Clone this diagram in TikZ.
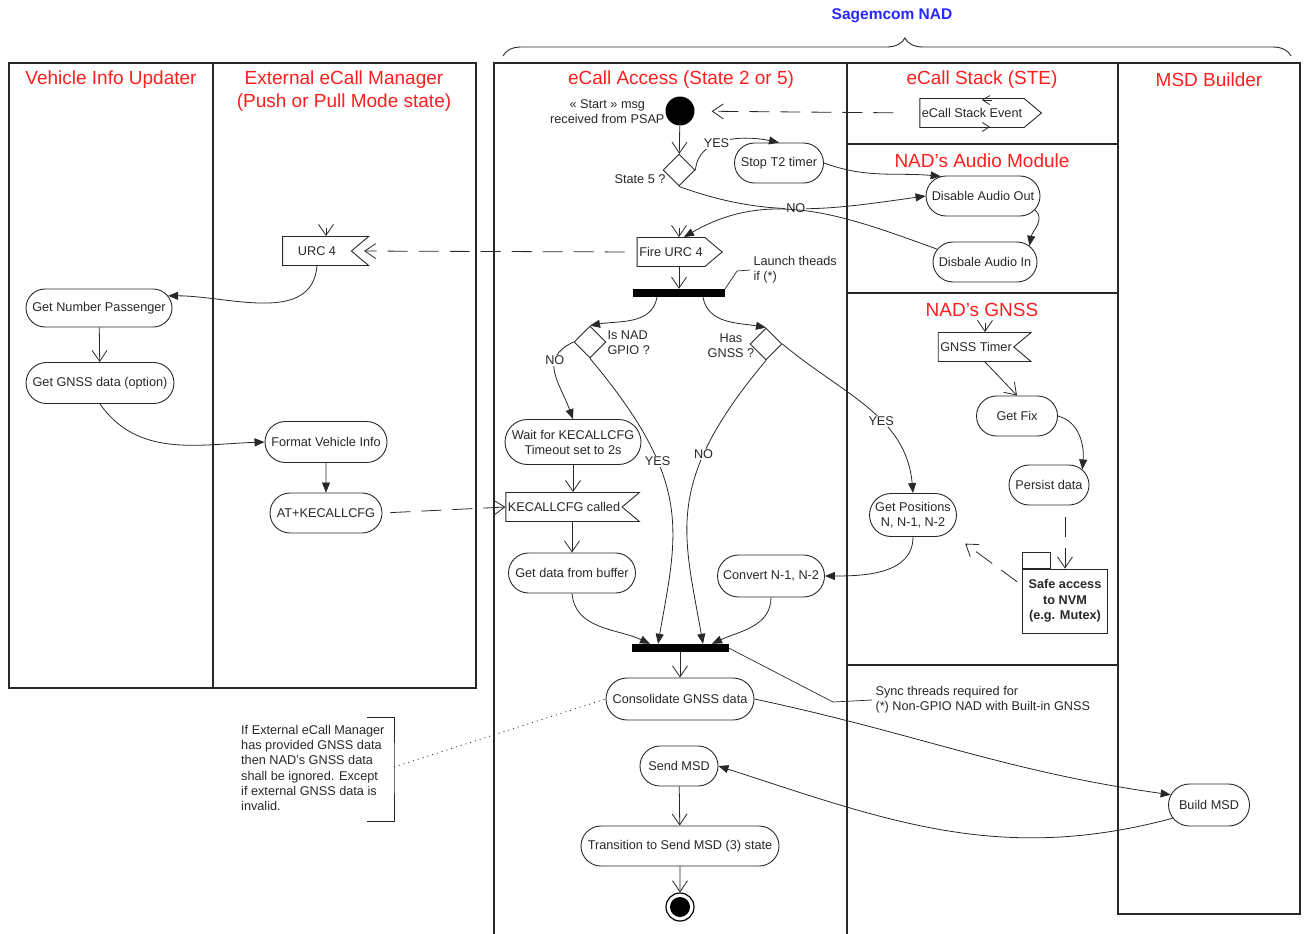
\documentclass[tikz,border=0pt]{standalone}
\usepackage{fontspec}
\setmainfont{Liberation Sans}
\usetikzlibrary{shapes.misc,shapes.geometric,shapes.symbols,arrows.meta,decorations.pathreplacing}

\definecolor{lanered}{RGB}{255,30,30}
\definecolor{nadblue}{RGB}{40,40,255}
\definecolor{ink}{RGB}{40,40,40}

\tikzset{
  lane/.style={draw=ink, line width=1.3pt},
  lanetitle/.style={text=lanered, font=\fontsize{19}{23}\selectfont, align=center},
  act/.style={rounded rectangle, draw=ink, line width=0.9pt, text=ink,
    font=\fontsize{12.7}{15}\selectfont, align=center, inner xsep=3pt,
    minimum height=40pt},
  decide/.style={diamond, draw=ink, line width=0.9pt, minimum width=32pt,
    minimum height=32pt, inner sep=0pt},
  sendsig/.style={signal, signal to=east, signal pointer angle=80, draw=ink,
    line width=0.9pt, text=ink, font=\fontsize{12.7}{15}\selectfont,
    minimum height=29pt, inner xsep=2pt},
  recvsig/.style={sendsig, signal to=nowhere, signal from=east},
  syncbar/.style={fill=black, minimum height=8pt, inner sep=0pt},
  lbl/.style={text=ink, font=\fontsize{12.7}{15}\selectfont},
  onlbl/.style={lbl, fill=white, inner sep=1pt},
  flow/.style={draw=ink, line width=0.8pt, -{Triangle[length=10pt,width=8pt]}},
  openflow/.style={draw=ink, line width=0.8pt, -{Straight Barb[length=11pt,width=15pt]}},
  smallflow/.style={draw=ink, line width=0.8pt, -{Straight Barb[length=7pt,width=9pt]}},
  msg/.style={openflow, dash pattern=on 20pt off 11pt},
}

\begin{document}
\begin{tikzpicture}[x=1pt,y=-1pt]
\useasboundingbox (0,0) rectangle (1304,934);

%lanes
\draw[lane] (9,63) rectangle (476,688);
\draw[lane] (213,63) -- (213,688);
\draw[lane] (494,934) -- (494,63) -- (1300,63) -- (1300,914) -- (1118,914) -- (1118,63);
\draw[lane] (847,63) -- (847,934);
\draw[lane] (847,144) -- (1118,144);
\draw[lane] (847,293) -- (1118,293);
\draw[lane] (847,665) -- (1118,665);

\node[lanetitle] (tveh) at (111,80) {Vehicle Info Updater};
\node[lanetitle] (texm) at (344,91) {External eCall Manager\\(Push or Pull Mode state)};
\node[lanetitle] (tacc) at (681,80) {eCall Access (State 2 or 5)};
\node[lanetitle] (tste) at (982,80) {eCall Stack (STE)};
\node[lanetitle] (taud) at (982,161) {NAD's Audio Module};
\node[lanetitle] (tgns) at (982,310) {NAD's GNSS};
\node[lanetitle] (tmsd) at (1209,80) {MSD Builder};

%Sagemcom NAD
\node[text=nadblue, font=\bfseries\fontsize{15.5}{18}\selectfont] (nad) at (892,16) {Sagemcom NAD};
\draw[decorate, decoration={brace, amplitude=18pt, aspect=0.51}, ink, line width=0.9pt]
  (503,56) -- (1291,56);

%eCall Access
\node[circle, fill=black, minimum size=29pt, inner sep=0pt] (start) at (680,111) {};
\node[lbl, align=center, anchor=east] (startlbl) at (668,112) {« Start » msg\\received from PSAP};
\node[decide] (d5) at (679,170) {};
\node[lbl, anchor=east] (d5lbl) at (669,179) {State 5 ?};
\node[act, minimum width=95pt] (s2t) at (779,163) {Stop T2 timer};
\node[sendsig, minimum width=85pt] (fire) at (671,252) {Fire URC 4};
\node[syncbar, minimum width=92pt] (bar1) at (679,293) {};
\node[lbl, anchor=west, align=left] (launch) at (750,270) {Launch theads\\if (*)};
\node[decide] (gpio) at (590,342) {};
\node[lbl, anchor=west, align=left] (gpiolbl) at (604,343) {Is NAD\\GPIO ?};
\node[decide] (hasg) at (766,344) {};
\node[lbl, align=center] (hasglbl) at (731,346) {Has\\GNSS ?};
\node[act, minimum width=142pt, minimum height=45pt] (wait) at (573,442) {Wait for KECALLCFG\\Timeout set to 2s};
\node[recvsig, minimum width=130pt] (kcc) at (564,507) {KECALLCFG called};
\node[act, minimum width=133pt] (gdb) at (572,573) {Get data from buffer};
\node[act, minimum width=113pt, minimum height=42pt] (cnv) at (771,576) {Convert N-1, N-2};
\node[syncbar, minimum width=97pt] (bar2) at (680,648) {};
\node[lbl, anchor=west, align=left] (sync) at (872,700) {Sync threads required for\\(*) Non-GPIO NAD with Built-in GNSS};
\node[act, minimum width=154pt, minimum height=42pt] (cons) at (680,699) {Consolidate GNSS data};
\node[act, minimum width=84pt] (send) at (679,766) {Send MSD};
\node[act, minimum width=204pt] (trans) at (680,846) {Transition to Send MSD (3) state};
\node[circle, draw=black, line width=1.2pt, minimum size=28pt, inner sep=0pt] (fin) at (680,907) {};
\fill[black] (fin.center) circle (10pt);

%eCall Stack
\node[sendsig, minimum width=119pt] (ese) at (972,113) {eCall Stack Event};

%NAD's Audio Module
\node[act, minimum width=120pt] (dao) at (983,196) {Disable Audio Out};
\node[act, minimum width=110pt] (dai) at (985,262) {Disbale Audio In};

%NAD's GNSS
\node[recvsig, minimum width=91pt] (gt) at (976,347) {GNSS Timer};
\node[act, minimum width=87pt] (fix) at (1017,416) {Get Fix};
\node[act, minimum width=86pt] (per) at (1049,485) {Persist data};
\node[act, minimum width=93pt, minimum height=43pt] (getpos) at (913,515) {Get Positions\\N, N-1, N-2};
\node[draw=ink, line width=0.9pt, minimum width=85pt, minimum height=64pt, align=center,
  text=ink, font=\bfseries\fontsize{12.7}{15.5}\selectfont] (nvm) at (1065,601) {Safe access\\to NVM\\(e.g. Mutex)};
\draw[ink, line width=0.9pt] (nvm.north west) rectangle ++(28,-16);

%MSD Builder
\node[act, minimum width=87pt, minimum height=42pt] (build) at (1209,805) {Build MSD};

%Vehicle Info Updater / External eCall Manager
\node[recvsig, minimum width=86pt] (urc) at (317,251) {URC 4};
\node[act, minimum width=152pt, minimum height=38pt] (gnp) at (99,308) {Get Number Passenger};
\node[act, minimum width=154pt, minimum height=41pt] (ggd) at (100,383) {Get GNSS data (option)};
\node[act, minimum width=128pt, minimum height=41pt] (fvi) at (326,442) {Format Vehicle Info};
\node[act, minimum width=118pt] (atk) at (326,513) {AT+KECALLCFG};

%note
\node[lbl, anchor=west, align=left, inner sep=0pt, font=\fontsize{12.7}{15.2}\selectfont] (note) at (241,768)
  {If External eCall Manager\\has provided GNSS data\\then NAD's GNSS data\\shall be ignored. Except\\if external GNSS data is\\invalid.};
\coordinate (brk) at (394,767);
\draw[ink, line width=0.9pt] (367,717) -| (brk) |- (367,821);

%flows
\draw[openflow] (start) -- (d5);
\draw[flow] (d5.east) to[out=85,in=168] node[onlbl,pos=0.4]{YES} (s2t.north);
\draw[flow] (d5.south) to[out=-20,in=188] node[onlbl,pos=.48]{NO} (dao.west);
\draw[flow] (s2t.east) to[out=-20,in=175] (dao.155);
\draw[flow] (dao.-15) to[out=-40,in=80] (dai.20);
\draw[flow] (dai.165) to[out=160,in=30] ([xshift=13pt]fire.north);
\draw[openflow] ([yshift=9pt]fire.north -| bar1.north) -- (fire.north -| bar1.north);
\draw[msg, shorten <=12pt, shorten >=12pt] (fire.west) -- (urc.east);
\draw[openflow] ([xshift=9pt,yshift=8pt]urc.north) -- ([xshift=9pt]urc.north);
\draw[flow] (urc.south) to[out=-95,in=0] (gnp.10);
\draw[openflow] (gnp) -- (ggd);
\draw[flow] (ggd.south) to[out=-55,in=182] (fvi.west);
\draw[flow] (fvi) -- (atk);
\draw[msg, shorten <=8pt] (atk.east) -- (kcc.west);
\draw[msg, shorten <=26pt, shorten >=17pt] (ese.west) -- (start);
\draw[smallflow] ([xshift=20pt,yshift=-2pt]ese.north) -- ([xshift=10pt,yshift=-2pt]ese.north);
\draw[smallflow] ([xshift=8pt,yshift=1pt]ese.south) -- ([xshift=18pt,yshift=1pt]ese.south);
\draw[openflow] (bar1.north |- fire.south) -- (bar1.north);
\draw[ink, line width=0.7pt] (bar1.north east) -- (737,271) -- (launch.west);
\draw[flow] ([xshift=-22pt]bar1.south) to[out=-100,in=10] (gpio.north);
\draw[flow] ([xshift=24pt]bar1.south) to[out=-80,in=170] (hasg.north);
\draw[flow] (gpio.west) to[out=205,in=110,looseness=1.3] node[onlbl,pos=.32]{NO} (wait.north);
\draw[flow] (gpio.south) to[out=-50,in=80,out looseness=1.4] node[onlbl,pos=.33]{YES} ([xshift=-22pt]bar2.north);
\draw[flow] (hasg.south) to[out=-130,in=100,out looseness=1.4] node[onlbl,pos=.3]{NO} ([xshift=23pt]bar2.north);
\draw[flow] (hasg.east) to[out=-40,in=95] node[onlbl,pos=.6]{YES} (getpos.north);
\draw[openflow] (wait.south) -- (wait.south |- kcc.north);
\draw[openflow] (gdb.north |- kcc.south) -- (gdb.north);
\draw[flow] (gdb.south) to[out=-85,in=155] ([xshift=-30pt]bar2.north);
\draw[flow] (cnv.south) to[out=-90,in=25] ([xshift=32pt]bar2.north);
\draw[flow] (getpos.south) to[out=-90,in=0] (cnv.east);
\draw[openflow] (bar2) -- (cons);
\draw[ink, line width=0.7pt] (bar2.east) -- (833,702) -- (sync.west);
\draw[ink, line width=0.8pt, dash pattern=on 1pt off 4pt] (brk) -- (cons.west);
\draw[openflow] ([xshift=9pt,yshift=9pt]gt.north) -- ([xshift=9pt]gt.north);
\draw[openflow] ([xshift=9pt]gt.south) -- (fix.north);
\draw[flow] (fix.east) to[out=-15,in=85] (per.25);
\draw[msg, shorten <=12pt] (per.south -| nvm.north) -- (nvm.north);
\draw[msg, shorten <=6pt, shorten >=20pt] (nvm.160) -- (getpos.-25);
\draw[flow] (cons.east) to[out=-12,in=172] (build.165);
\draw[flow] (build.200) to[out=195,in=-18] (send.east);
\draw[openflow] (send) -- (trans);
\draw[openflow] (trans) -- (fin);
\end{tikzpicture}
\end{document}
